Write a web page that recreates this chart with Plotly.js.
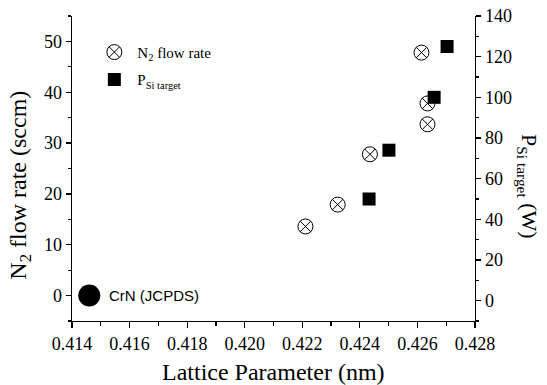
<!DOCTYPE html>
<html>
<head>
<meta charset="utf-8">
<script src="https://cdn.plot.ly/plotly-3.0.1.min.js"></script>
<style>html,body{margin:0;padding:0;background:#fff;}</style>
</head>
<body>
<div id="chart" style="width:547px;height:385px;"></div>
<script>
// N2 flow rate (left axis, sccm) vs lattice parameter (nm)
var latticeN2 = [0.42211, 0.42323, 0.42435, 0.42614, 0.42635, 0.42635];
var flowN2 = [13.6, 17.9, 27.8, 47.8, 37.8, 33.7];
// P Si target (right axis, W) vs lattice parameter (nm)
var latticeP = [0.42432, 0.42501, 0.42658, 0.42703];
var powerP = [50, 74, 100, 125];
// CrN reference (JCPDS)
var latticeCrN = [0.4146];
var flowCrN = [0];
var crnLabel = "CrN (JCPDS)";
var n2Name = "N<sub>2</sub> flow rate";
var pName = "P<sub>Si target</sub>";
var xTitle = "Lattice Parameter (nm)";
var yTitle = "N<sub>2</sub> flow rate (sccm)";
var y2Title = "P<sub>Si target</sub> (W)";

var serif = "Liberation Serif";

var traces = [
  {
    x: latticeN2, y: flowN2, type: "scatter", mode: "markers", name: n2Name,
    marker: {symbol: "circle-x-open", size: 15, color: "#000", line: {color: "#000", width: 1}},
    legend: "legend", xaxis: "x", yaxis: "y"
  },
  {
    x: latticeP, y: powerP, type: "scatter", mode: "markers", name: pName,
    marker: {symbol: "square", size: 13, color: "#000"},
    legend: "legend2", xaxis: "x", yaxis: "y2"
  },
  {
    x: latticeCrN, y: flowCrN, type: "scatter", mode: "markers", showlegend: false,
    marker: {symbol: "circle", size: 22, color: "#000"},
    xaxis: "x", yaxis: "y", cliponaxis: false
  }
];

function axisBase() {
  return {
    showgrid: false, zeroline: false, showline: true, linecolor: "#000", linewidth: 1.3,
    ticks: "outside", tickcolor: "#000", tickwidth: 1.2, ticklen: 6,
    tickfont: {family: serif, size: 18, color: "#000"}
  };
}

var layout = {
  width: 547, height: 385,
  margin: {l: 72, r: 72, t: 16, b: 64},
  paper_bgcolor: "#fff", plot_bgcolor: "#fff",
  font: {family: serif, color: "#000", size: 15},
  xaxis: Object.assign(axisBase(), {
    range: [0.414, 0.428], dtick: 0.002, tick0: 0.414, tickformat: ".3f",
    minor: {dtick: 0.001, ticks: "outside", ticklen: 3.5, tickcolor: "#000", tickwidth: 1.2}
  }),
  xaxis2: {
    overlaying: "x", side: "top", anchor: "y", range: [0.414, 0.428], dtick: 0.002, tick0: 0.414,
    showgrid: false, zeroline: false, showline: true, linecolor: "#000", linewidth: 1.3,
    ticks: "inside", ticklen: 5, tickcolor: "#000", tickwidth: 1.2, showticklabels: false,
    minor: {dtick: 0.001, ticks: "inside", ticklen: 3, tickcolor: "#000", tickwidth: 1.2}
  },
  yaxis: Object.assign(axisBase(), {
    range: [-5, 55], dtick: 10, tick0: 0, ticklen: 5,
    minor: {dtick: 5, ticks: "outside", ticklen: 3, tickcolor: "#000", tickwidth: 1.2}
  }),
  yaxis2: Object.assign(axisBase(), {
    overlaying: "y", side: "right", anchor: "x",
    range: [-10, 140], dtick: 20, tick0: 0, ticklen: 5,
    minor: {dtick: 10, ticks: "outside", ticklen: 3, tickcolor: "#000", tickwidth: 1.2}
  }),
  showlegend: true,
  legend: {
    x: 0.048, y: 0.935, xanchor: "left", yanchor: "top", itemwidth: 36,
    bgcolor: "rgba(0,0,0,0)", borderwidth: 0,
    font: {family: serif, size: 15, color: "#000"}
  },
  legend2: {
    x: 0.048, y: 0.845, xanchor: "left", yanchor: "top", itemwidth: 36,
    bgcolor: "rgba(0,0,0,0)", borderwidth: 0,
    font: {family: serif, size: 15, color: "#000"}
  },
  annotations: [
    {
      text: crnLabel, x: 0.41522, y: 0, xref: "x", yref: "y",
      xanchor: "left", yanchor: "middle", showarrow: false,
      font: {family: "Liberation Sans", size: 15, color: "#000"}
    },
    {
      text: xTitle, x: 0.5, y: -0.168, xref: "paper", yref: "paper",
      xanchor: "center", yanchor: "middle", showarrow: false,
      font: {family: serif, size: 24, color: "#000"}
    },
    {
      text: yTitle, x: -0.128, y: 0.445, xref: "paper", yref: "paper", textangle: -90,
      xanchor: "center", yanchor: "middle", showarrow: false,
      font: {family: serif, size: 24, color: "#000"}
    },
    {
      text: y2Title, x: 1.131, y: 0.44, xref: "paper", yref: "paper", textangle: 90,
      xanchor: "center", yanchor: "middle", showarrow: false,
      font: {family: serif, size: 22, color: "#000"}
    }
  ]
};

Plotly.newPlot("chart", traces, layout, {displayModeBar: false, staticPlot: true});
</script>
</body>
</html>
